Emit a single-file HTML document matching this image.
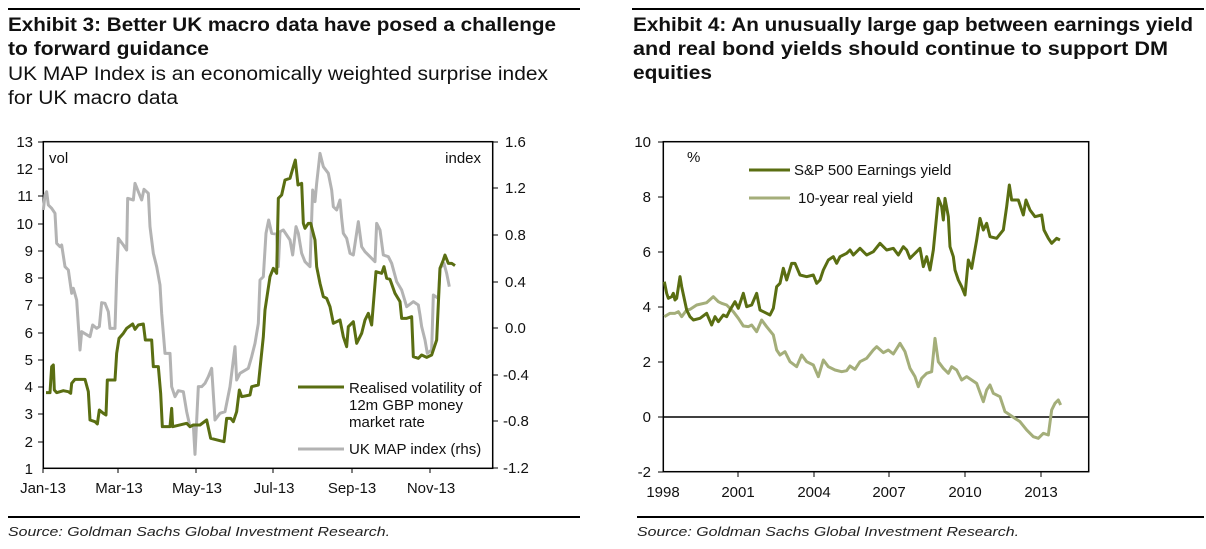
<!DOCTYPE html>
<html><head><meta charset="utf-8"><style>
html,body{margin:0;padding:0;background:#fff;}
svg{display:block;font-family:"Liberation Sans",sans-serif;}
</style></head><body>
<svg width="1206" height="549" viewBox="0 0 1206 549" xmlns="http://www.w3.org/2000/svg">
<rect width="1206" height="549" fill="#fff"/>
<line x1="8" y1="9" x2="580" y2="9" stroke="#000" stroke-width="2"/>
<line x1="632" y1="9" x2="1204" y2="9" stroke="#000" stroke-width="2"/>
<g font-weight="bold" font-size="19" fill="#111">
<text x="8" y="31" textLength="548" lengthAdjust="spacingAndGlyphs">Exhibit 3: Better UK macro data have posed a challenge</text>
<text x="8" y="55" textLength="201" lengthAdjust="spacingAndGlyphs">to forward guidance</text>
<text x="633" y="31" textLength="560" lengthAdjust="spacingAndGlyphs">Exhibit 4: An unusually large gap between earnings yield</text>
<text x="633" y="55" textLength="535" lengthAdjust="spacingAndGlyphs">and real bond yields should continue to support DM</text>
<text x="633" y="79" textLength="79" lengthAdjust="spacingAndGlyphs">equities</text>
</g>
<g font-size="19" fill="#111">
<text x="8" y="80" textLength="540" lengthAdjust="spacingAndGlyphs">UK MAP Index is an economically weighted surprise index</text>
<text x="8" y="104" textLength="170" lengthAdjust="spacingAndGlyphs">for UK macro data</text>
</g>
<line x1="8" y1="517" x2="580" y2="517" stroke="#000" stroke-width="2"/>
<line x1="637" y1="517" x2="1204" y2="517" stroke="#000" stroke-width="2"/>
<g font-size="13" font-style="italic" fill="#222">
<text x="8" y="536" textLength="382" lengthAdjust="spacingAndGlyphs">Source: Goldman Sachs Global Investment Research.</text>
<text x="637" y="536" textLength="382" lengthAdjust="spacingAndGlyphs">Source: Goldman Sachs Global Investment Research.</text>
</g>

<rect x="43.3" y="141.7" width="449.4" height="326.6" fill="none" stroke="#000" stroke-width="1.5"/>
<g font-size="15" fill="#111" text-anchor="end">
<text x="33" y="147">13</text><text x="33" y="174">12</text><text x="33" y="201">11</text><text x="33" y="229">10</text>
<text x="33" y="256">9</text><text x="33" y="283">8</text><text x="33" y="310">7</text><text x="33" y="338">6</text>
<text x="33" y="365">5</text><text x="33" y="392">4</text><text x="33" y="419">3</text><text x="33" y="447">2</text><text x="33" y="474">1</text>
</g>
<g font-size="15" fill="#111" text-anchor="start">
<text x="505" y="147">1.6</text><text x="505" y="193">1.2</text><text x="505" y="240">0.8</text><text x="505" y="287">0.4</text>
<text x="505" y="333">0.0</text><text x="503" y="380">-0.4</text><text x="503" y="426">-0.8</text><text x="503" y="473">-1.2</text>
</g>
<g stroke="#000" stroke-width="1">
<line x1="38" y1="142" x2="43" y2="142"/><line x1="38" y1="169" x2="43" y2="169"/><line x1="38" y1="196" x2="43" y2="196"/><line x1="38" y1="224" x2="43" y2="224"/><line x1="38" y1="251" x2="43" y2="251"/><line x1="38" y1="278" x2="43" y2="278"/><line x1="38" y1="305" x2="43" y2="305"/><line x1="38" y1="333" x2="43" y2="333"/><line x1="38" y1="360" x2="43" y2="360"/><line x1="38" y1="387" x2="43" y2="387"/><line x1="38" y1="414" x2="43" y2="414"/><line x1="38" y1="442" x2="43" y2="442"/>
<line x1="493" y1="142" x2="498" y2="142"/><line x1="493" y1="188" x2="498" y2="188"/><line x1="493" y1="235" x2="498" y2="235"/><line x1="493" y1="282" x2="498" y2="282"/><line x1="493" y1="328" x2="498" y2="328"/><line x1="493" y1="375" x2="498" y2="375"/><line x1="493" y1="421" x2="498" y2="421"/><line x1="493" y1="468" x2="498" y2="468"/>
<line x1="43" y1="468" x2="43" y2="473"/><line x1="118" y1="468" x2="118" y2="473"/><line x1="196" y1="468" x2="196" y2="473"/><line x1="273" y1="468" x2="273" y2="473"/><line x1="352" y1="468" x2="352" y2="473"/><line x1="430" y1="468" x2="430" y2="473"/>
</g>
<g font-size="15" fill="#111" text-anchor="middle">
<text x="43" y="493">Jan-13</text><text x="119" y="493">Mar-13</text><text x="197" y="493">May-13</text><text x="274" y="493">Jul-13</text><text x="352" y="493">Sep-13</text><text x="431" y="493">Nov-13</text>
</g>
<text x="49" y="163" font-size="15" fill="#111">vol</text>
<text x="481" y="163" font-size="15" fill="#111" text-anchor="end">index</text>
<g transform="translate(0,120) scale(0.33333)" fill="none" stroke-linejoin="round">
<polyline stroke="#b3b3b3" stroke-width="9" points="130,270 135,225 140,215 145,255 155,265 165,280 170,370 180,380 185,375 195,440 205,450 215,520 220,505 230,540 240,690 245,635 270,650 278,615 290,625 298,620 305,548 315,550 325,575 330,625 345,625 350,470 355,355 370,375 380,390 383,235 400,240 405,190 415,215 425,240 432,208 445,220 450,320 460,400 470,440 480,495 485,580 495,700 510,700 515,800 525,830 535,812 550,815 560,875 570,920 580,915 585,1003 595,800 605,800 615,790 625,770 635,745 645,900 660,880 675,875 690,800 700,720 705,680 710,780 720,760 745,745 755,710 765,670 775,610 780,480 790,470 798,340 806,300 815,340 830,342 835,440 840,335 850,330 870,360 878,405 888,320 895,340 905,400 915,425 930,440 938,210 945,245 950,190 960,100 970,140 985,160 995,210 1000,260 1010,270 1020,240 1025,295 1030,340 1040,355 1050,400 1060,405 1075,305 1085,380 1095,395 1110,410 1125,425 1130,310 1140,330 1150,405 1165,410 1175,430 1190,485 1205,510 1220,560 1240,545 1255,555 1260,585 1265,620 1275,660 1282,700 1295,690 1300,525 1315,535 1320,445 1332,430 1340,460 1348,500"/>
<polyline stroke="#5a6e12" stroke-width="9" points="138,818 150,818 155,740 160,735 163,810 170,818 190,812 205,815 212,820 215,790 225,778 255,778 265,815 270,900 285,905 292,912 298,870 310,880 318,885 322,780 345,780 350,700 357,655 370,640 380,625 398,612 405,628 415,615 430,612 436,660 455,660 460,740 475,740 482,820 487,920 510,920 515,865 518,920 560,910 570,920 580,915 600,915 620,900 632,955 660,962 672,965 680,895 692,895 700,905 710,875 718,810 725,830 750,825 755,800 775,795 790,650 795,570 810,470 820,445 830,460 835,235 845,225 855,180 870,175 880,140 886,120 894,195 905,190 910,310 915,325 925,310 932,310 945,360 950,440 960,490 970,530 980,535 990,560 1000,610 1020,600 1030,650 1040,680 1045,620 1060,605 1070,670 1085,640 1095,600 1105,580 1115,615 1128,455 1145,460 1152,440 1160,475 1170,478 1185,520 1200,545 1205,595 1220,595 1235,590 1240,710 1255,715 1265,705 1280,712 1295,705 1310,660 1320,445 1330,420 1335,405 1345,430 1355,430 1365,437"/>
</g>
<line x1="298" y1="387" x2="344" y2="387" stroke="#5a6e12" stroke-width="3"/>
<line x1="298" y1="449" x2="344" y2="449" stroke="#b3b3b3" stroke-width="3"/>
<g font-size="15" fill="#111">
<text x="349" y="393">Realised volatility of</text>
<text x="349" y="410">12m GBP money</text>
<text x="349" y="427">market rate</text>
<text x="349" y="454">UK MAP index (rhs)</text>
</g>

<rect x="663.3" y="141.7" width="425.4" height="330" fill="none" stroke="#000" stroke-width="1.5"/>
<line x1="663" y1="417" x2="1089" y2="417" stroke="#000" stroke-width="1.5"/>
<g font-size="15" fill="#111" text-anchor="end">
<text x="651" y="147">10</text><text x="651" y="202">8</text><text x="651" y="257">6</text><text x="651" y="312">4</text>
<text x="651" y="367">2</text><text x="651" y="422">0</text><text x="651" y="477">-2</text>
</g>
<g stroke="#000" stroke-width="1">
<line x1="658" y1="142" x2="663" y2="142"/><line x1="658" y1="197" x2="663" y2="197"/><line x1="658" y1="252" x2="663" y2="252"/><line x1="658" y1="307" x2="663" y2="307"/><line x1="658" y1="362" x2="663" y2="362"/><line x1="658" y1="417" x2="663" y2="417"/><line x1="658" y1="472" x2="663" y2="472"/>
<line x1="738" y1="472" x2="738" y2="477"/><line x1="814" y1="472" x2="814" y2="477"/><line x1="889" y1="472" x2="889" y2="477"/><line x1="965" y1="472" x2="965" y2="477"/><line x1="1041" y1="472" x2="1041" y2="477"/>
</g>
<g font-size="15" fill="#111" text-anchor="middle">
<text x="663" y="497">1998</text><text x="738" y="497">2001</text><text x="814" y="497">2004</text><text x="889" y="497">2007</text><text x="965" y="497">2010</text><text x="1041" y="497">2013</text>
</g>
<text x="687" y="162" font-size="15" fill="#111">%</text>
<g transform="translate(620,120) scale(0.33333)" fill="none" stroke-linejoin="round">
<polyline stroke="#a4ae7a" stroke-width="9" points="133,590 150,580 165,580 175,575 185,590 200,570 210,568 230,555 260,548 280,530 295,545 305,550 320,555 340,575 355,595 370,618 385,620 395,615 410,635 425,600 440,620 460,645 470,690 480,705 495,695 510,725 530,740 545,705 560,725 580,735 595,770 610,720 625,740 645,750 665,755 680,752 690,738 705,748 720,725 740,715 760,690 770,680 790,698 805,690 820,702 840,670 855,695 870,745 885,770 895,800 905,775 920,760 935,755 945,655 955,725 970,745 985,760 995,740 1010,750 1025,780 1040,770 1055,780 1070,790 1090,845 1100,810 1110,795 1120,820 1140,830 1155,875 1170,885 1185,895 1200,905 1220,930 1240,950 1255,955 1270,940 1285,945 1295,870 1305,850 1315,840 1322,855"/>
<polyline stroke="#5a6e12" stroke-width="9" points="133,485 140,520 145,535 155,530 160,520 165,540 170,535 180,470 185,500 200,570 210,590 220,600 240,595 260,580 275,615 285,590 295,605 310,585 320,590 330,570 345,545 355,565 370,520 380,560 395,555 410,520 420,570 440,580 450,585 460,565 470,500 480,490 490,445 500,480 515,430 525,430 540,465 560,470 580,465 590,490 600,480 610,450 625,420 640,410 650,430 660,410 680,400 690,390 700,405 720,385 740,405 760,395 780,370 800,390 820,385 835,405 850,380 860,390 870,415 880,405 900,385 910,440 920,410 930,450 940,390 955,235 965,260 970,300 975,235 985,290 990,380 1000,410 1005,450 1015,480 1025,500 1035,525 1045,420 1055,445 1070,360 1080,295 1090,330 1100,310 1110,350 1130,355 1150,330 1160,260 1168,195 1175,240 1195,240 1210,285 1218,240 1230,270 1245,290 1265,285 1272,330 1285,355 1295,370 1310,355 1320,360"/>
</g>
<line x1="749" y1="170" x2="790" y2="170" stroke="#5a6e12" stroke-width="3"/>
<line x1="749" y1="198" x2="790" y2="198" stroke="#a4ae7a" stroke-width="3"/>
<g font-size="15" fill="#111">
<text x="794" y="175">S&amp;P 500 Earnings yield</text>
<text x="798" y="203">10-year real yield</text>
</g>
</svg>
</body></html>
